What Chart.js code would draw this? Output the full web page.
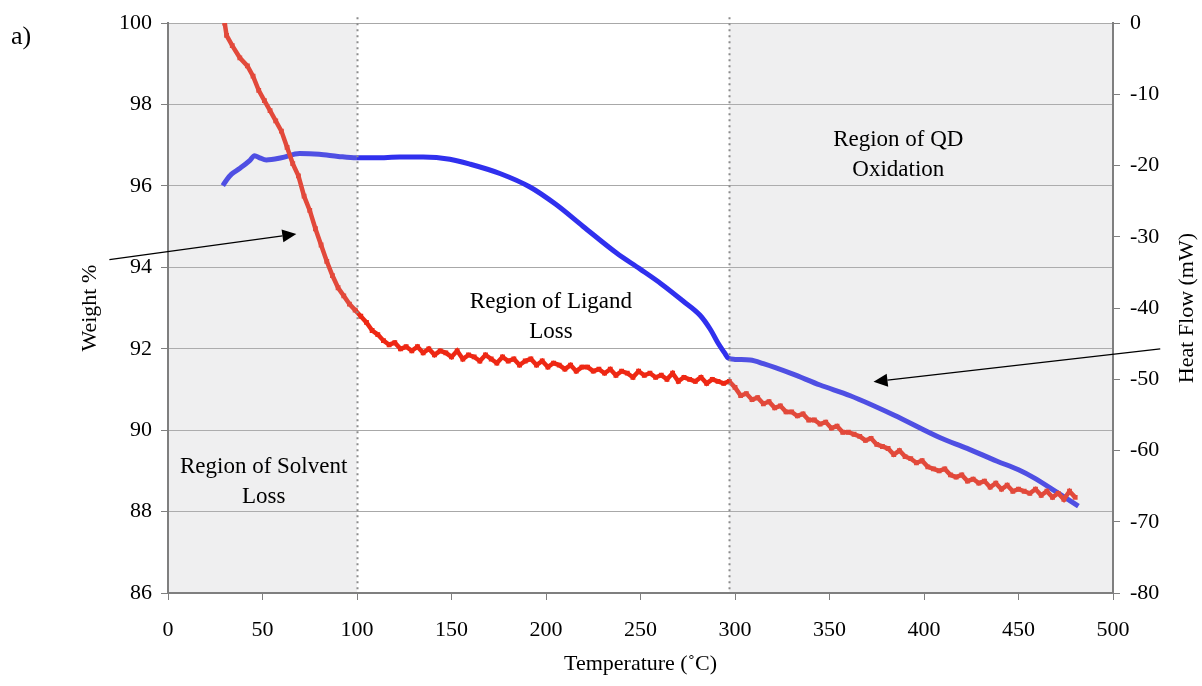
<!DOCTYPE html>
<html>
<head>
<meta charset="utf-8">
<script src="https://cdn.jsdelivr.net/npm/chart.js@4.4.1/dist/chart.umd.min.js"></script>
<style>
    html, body { margin: 0; padding: 0; background: #fff; overflow: hidden; }
    #wrap { width: 1202px; height: 686px; position: relative; }
</style>
</head>
<body>
<div id="wrap"><canvas id="tgaChart"></canvas></div>
<script>
const redTemp = [
    30, 31, 34, 38, 42, 45, 48, 51, 54, 57,
    60, 63, 66, 69, 72, 75, 78, 81, 84, 87,
    90, 93, 96, 99, 102, 105, 108, 111, 114, 117,
    120, 123, 126, 129, 132, 135, 138, 141, 144, 147,
    150, 153, 156, 159, 162, 165, 168, 171, 174, 177,
    180, 183, 186, 189, 192, 195, 198, 201, 204, 207,
    210, 213, 216, 219, 222, 225, 228, 231, 234, 237,
    240, 243, 246, 249, 252, 255, 258, 261, 264, 267,
    270, 273, 276, 279, 282, 285, 288, 291, 294, 297,
    300, 303, 306, 309, 312, 315, 318, 321, 324, 327,
    330, 333, 336, 339, 342, 345, 348, 351, 354, 357,
    360, 363, 366, 369, 372, 375, 378, 381, 384, 387,
    390, 393, 396, 399, 402, 405, 408, 411, 414, 417,
    420, 423, 426, 429, 432, 435, 438, 441, 444, 447,
    450, 453, 456, 459, 462, 465, 468, 471, 474, 477,
    480
];
const redWeight = [
    100.00, 99.70, 99.45, 99.15, 98.95, 98.70, 98.35, 98.10, 97.85, 97.60,
    97.35, 96.95, 96.55, 96.25, 95.75, 95.40, 94.95, 94.55, 94.15, 93.80,
    93.50, 93.30, 93.10, 92.95, 92.80, 92.65, 92.45, 92.35, 92.20, 92.10,
    92.15, 92.00, 92.05, 91.95, 92.05, 91.90, 92.00, 91.85, 91.95, 91.90,
    91.80, 91.95, 91.75, 91.85, 91.80, 91.70, 91.85, 91.75, 91.65, 91.80,
    91.70, 91.75, 91.60, 91.70, 91.75, 91.60, 91.70, 91.55, 91.65, 91.60,
    91.50, 91.60, 91.45, 91.55, 91.55, 91.45, 91.50, 91.40, 91.50, 91.35,
    91.45, 91.40, 91.30, 91.45, 91.35, 91.40, 91.30, 91.35, 91.25, 91.40,
    91.20, 91.30, 91.25, 91.20, 91.30, 91.15, 91.25, 91.20, 91.15, 91.20,
    91.05, 90.85, 90.90, 90.75, 90.80, 90.65, 90.70, 90.55, 90.60, 90.45,
    90.45, 90.35, 90.40, 90.25, 90.25, 90.15, 90.20, 90.05, 90.10, 89.95,
    89.95, 89.90, 89.85, 89.75, 89.80, 89.65, 89.60, 89.55, 89.40, 89.50,
    89.35, 89.30, 89.20, 89.25, 89.10, 89.05, 89.00, 89.05, 88.90, 88.85,
    88.90, 88.75, 88.80, 88.70, 88.75, 88.60, 88.70, 88.55, 88.65, 88.50,
    88.55, 88.50, 88.45, 88.55, 88.40, 88.50, 88.35, 88.45, 88.30, 88.50,
    88.35
];

const blueTemp = [
    29, 31, 33.6, 37.9, 43.2, 45.8, 48.5, 52, 60, 69.6,
    80, 90, 99.7, 110, 122.6, 135, 149.1, 160, 175.6, 191.5,
    205, 219.5, 237.5, 249.7, 261, 272.5, 281.5, 287, 291, 294.5,
    296.3, 300, 308, 315, 330, 345, 361, 384, 408.6, 422.8,
    438.7, 450, 458, 470, 481.7
];
const blueHeat = [
    -22.8, -22.0, -21.2, -20.4, -19.3, -18.6, -18.9, -19.2, -18.9, -18.3,
    -18.4, -18.7, -18.9, -18.9, -18.8, -18.8, -19.1, -19.8, -21.1, -23.0,
    -25.4, -28.5, -32.3, -34.5, -36.6, -39.0, -41.0, -43.0, -44.9, -46.3,
    -47.0, -47.2, -47.3, -47.8, -49.2, -50.8, -52.3, -55.0, -58.2, -59.7,
    -61.5, -62.7, -63.8, -65.8, -67.8
];

// region boundaries (°C)
const regionBounds = [100, 297];
const shadedRanges = [[0, 100], [297, 500]];

const xTitle = "Temperature (˚C)";
const yTitle = "Weight %";
const y2Title = "Heat Flow (mW)";

// annotation anchors in data units (temp, weight %)
const regionLabels = [
    { lines: ["Region of Solvent", "Loss"], t: 50.6, w: 88.95 },
    { lines: ["Region of Ligand", "Loss"], t: 202.6, w: 93.01 },
    { lines: ["Region of QD", "Oxidation"], t: 386.4, w: 96.98 },
];
const arrows = [
    { from: [-31, 94.19], to: [67.9, 94.82] },
    { from: [525, 92.0], to: [373.3, 91.19] },
];

// ── Styling helpers ──────────────────────────────────────────
const SERIF = '"Liberation Serif", "Times New Roman", serif';
Chart.defaults.font.family = SERIF;
Chart.defaults.color = "#000";

const drawArrow = (ctx, x0, y0, x1, y1) => {
    const ang = Math.atan2(y1 - y0, x1 - x0);
    const len = 14, half = 6.5;
    const bx = x1 - len * Math.cos(ang), by = y1 - len * Math.sin(ang);
    ctx.beginPath();
    ctx.moveTo(x0, y0);
    ctx.lineTo(bx, by);
    ctx.lineWidth = 1.2;
    ctx.strokeStyle = "#000";
    ctx.stroke();
    ctx.beginPath();
    ctx.moveTo(x1, y1);
    ctx.lineTo(bx + half * Math.sin(ang), by - half * Math.cos(ang));
    ctx.lineTo(bx - half * Math.sin(ang), by + half * Math.cos(ang));
    ctx.closePath();
    ctx.fillStyle = "#000";
    ctx.fill();
};

const decorPlugin = {
    id: "decor",
    afterDatasetsDraw(chart) {
        const { ctx, chartArea: a, scales: { x } } = chart;
        ctx.save();
        ctx.beginPath();
        ctx.rect(a.left + 1, a.top, a.right - a.left - 2, a.bottom - a.top - 1);
        ctx.clip();
        // grey shading sits over the traces, as in the source figure
        ctx.fillStyle = "rgba(188,188,192,0.23)";
        shadedRanges.forEach(([s, e]) => {
            const x0 = x.getPixelForValue(s), x1 = x.getPixelForValue(e);
            ctx.fillRect(x0, a.top, x1 - x0, a.bottom - a.top);
        });
        ctx.restore();

        // dotted region dividers
        ctx.save();
        ctx.strokeStyle = "#8c8c8c";
        ctx.lineWidth = 2;
        ctx.setLineDash([2, 4]);
        regionBounds.forEach(t => {
            const px = Math.round(x.getPixelForValue(t)) + 0.5;
            ctx.beginPath();
            ctx.moveTo(px, a.top - 6);
            ctx.lineTo(px, a.bottom);
            ctx.stroke();
        });
        ctx.restore();
    },
    afterDraw(chart) {
        const { ctx, chartArea: a, scales: { x, y } } = chart;
        ctx.save();
        ctx.fillStyle = "#000";

        // region labels
        ctx.font = `23px ${SERIF}`;
        ctx.textAlign = "center";
        ctx.textBaseline = "alphabetic";
        regionLabels.forEach(r => {
            const px = x.getPixelForValue(r.t), py = y.getPixelForValue(r.w);
            r.lines.forEach((ln, i) => ctx.fillText(ln, px, py + i * 30));
        });

        // arrows
        arrows.forEach(ar => {
            drawArrow(ctx,
                x.getPixelForValue(ar.from[0]), y.getPixelForValue(ar.from[1]),
                x.getPixelForValue(ar.to[0]), y.getPixelForValue(ar.to[1]));
        });

        // axis titles
        ctx.font = `22px ${SERIF}`;
        ctx.textBaseline = "middle";
        ctx.fillText(xTitle, (a.left + a.right) / 2, 664);
        const midY = (a.top + a.bottom) / 2;
        [[90, yTitle], [1187, y2Title]].forEach(([tx, txt]) => {
            ctx.save();
            ctx.translate(tx, midY);
            ctx.rotate(-Math.PI / 2);
            ctx.fillText(txt, 0, 0);
            ctx.restore();
        });

        // panel tag
        ctx.font = `26px ${SERIF}`;
        ctx.textAlign = "left";
        ctx.textBaseline = "alphabetic";
        ctx.fillText("a)", 11, 44);
        ctx.restore();
    }
};

// ── Chart ────────────────────────────────────────────────────
const axisGrey = "#7f7f7f";
const tickFont = { family: SERIF, size: 22 };

const ctx = document.getElementById("tgaChart").getContext("2d");
new Chart(ctx, {
    type: "line",
    data: {
        datasets: [
            {
                label: "Weight %",
                data: redTemp.map((t, i) => ({ x: t, y: redWeight[i] })),
                yAxisID: "y",
                borderColor: "#ee2814",
                backgroundColor: "#ee2814",
                borderWidth: 4.5,
                pointStyle: "rect",
                pointRadius: 3.4,
                pointBorderWidth: 0,
                tension: 0,
                order: 0,
            },
            {
                label: "Heat Flow",
                data: blueTemp.map((t, i) => ({ x: t, y: blueHeat[i] })),
                yAxisID: "y2",
                borderColor: "#3030ee",
                borderWidth: 5,
                pointRadius: 0,
                cubicInterpolationMode: "monotone",
                order: 1,
            }
        ]
    },
    options: {
        responsive: true,
        maintainAspectRatio: false,
        animation: false,
        devicePixelRatio: 1,
        layout: { padding: { top: 18, left: 0, right: 0, bottom: 0 } },
        plugins: { legend: { display: false }, tooltip: { enabled: false } },
        scales: {
            x: {
                type: "linear",
                min: 0, max: 500,
                ticks: { stepSize: 50, autoSkip: false, maxRotation: 0, font: tickFont, padding: 17 },
                grid: { drawOnChartArea: false, tickLength: 7, color: axisGrey },
                border: { color: axisGrey, width: 2 },
                afterFit: s => { s.height = 93; },
            },
            y: {
                position: "left",
                min: 86, max: 100,
                ticks: { stepSize: 2, font: tickFont, padding: 9 },
                grid: { color: "#a8a8a8", tickColor: axisGrey, tickLength: 7 },
                border: { color: axisGrey, width: 2 },
                afterFit: s => { s.width = 168; },
            },
            y2: {
                position: "right",
                min: -80, max: 0,
                ticks: { stepSize: 10, font: tickFont, padding: 10 },
                grid: { drawOnChartArea: false, color: axisGrey, tickLength: 7 },
                border: { color: axisGrey, width: 2 },
                afterFit: s => { s.width = 89; },
            }
        }
    },
    plugins: [decorPlugin]
});
</script>
</body>
</html>
